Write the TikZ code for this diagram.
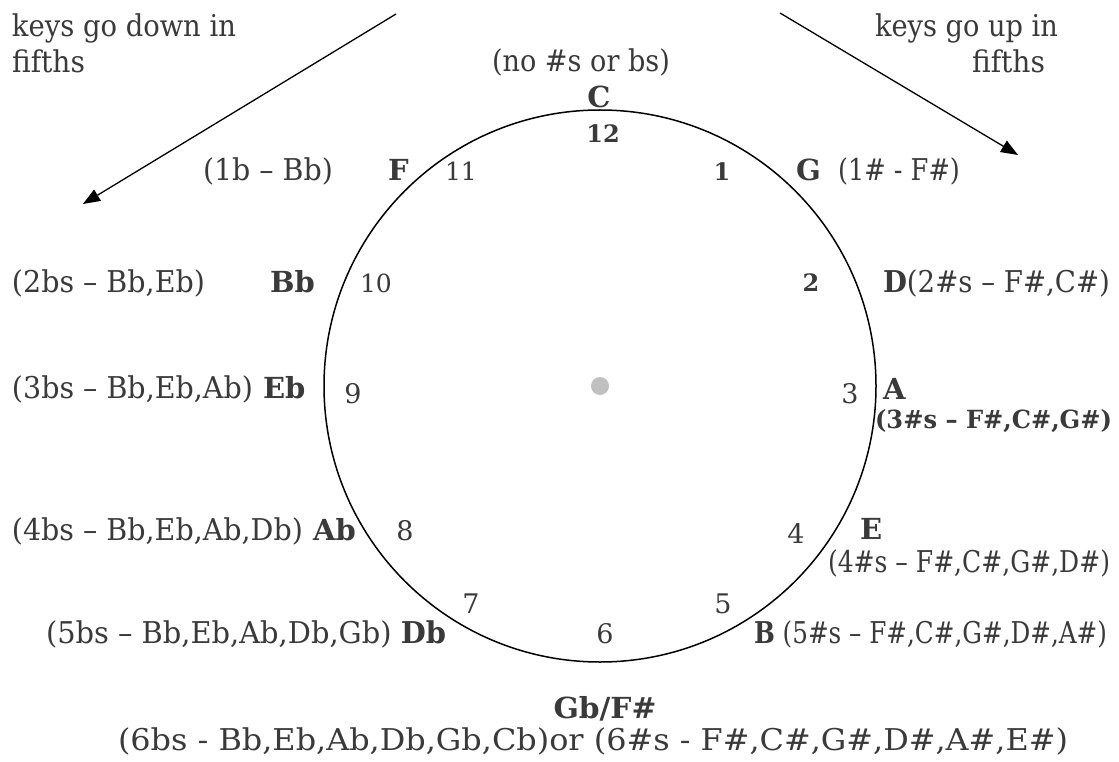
\documentclass[tikz,border=0pt]{standalone}
\usepackage{fontspec}
\setmainfont{DejaVu Serif}
\usepackage{graphicx}
\usetikzlibrary{arrows.meta}
\definecolor{txt}{RGB}{58,58,58}
\definecolor{hubgray}{RGB}{192,192,192}
\newcommand\fw[2]{\resizebox{#1pt}{\height}{#2}}
\begin{document}
\begin{tikzpicture}[x=1pt,y=-1pt,
  lab/.style={inner sep=0pt, outer sep=0pt, text=txt, font=\fontsize{30}{34}\selectfont},
  key/.style={lab, font=\fontsize{29}{34}\selectfont\bfseries},
  lw/.style={lab, anchor=base west},
  kw/.style={key, anchor=base west},
  num/.style={lab, anchor=base, font=\fontsize{27}{32}\selectfont},
  onum/.style={lab, anchor=base, font=\fontsize{25}{28}\selectfont},
  bnum/.style={key, anchor=base},
  bonum/.style={key, anchor=base, font=\fontsize{24}{28}\selectfont\bfseries},
  arr/.style={-{Triangle[length=17pt,width=13pt]}, line width=1.3pt, draw=black}]
\useasboundingbox (0,0) rectangle (1119,762);
\fill[white] (0,0) rectangle (1119,762);

% circle and hub
\node[circle, draw=black, line width=1.5pt, minimum size=552pt, inner sep=0pt] (clock) at (600,386) {};
\node[circle, fill=hubgray, minimum size=18pt, inner sep=0pt] (hub) at (600,386) {};

% arrows
\coordinate (ls) at (396,14);
\coordinate (le) at (83,204);
\coordinate (rs) at (780,13);
\coordinate (re) at (1018,155);
\draw[arr] (ls) -- (le);
\draw[arr] (rs) -- (re);

% top texts
\node[lw] (kd1) at (12,37) {\fw{224}{keys go down in}};
\node[lw] (kd2) at (12,73) {\fw{73}{fifths}};
\node[lw] (ku1) at (875,37) {\fw{183}{keys go up in}};
\node[lw] (ku2) at (972,73) {\fw{73}{fifths}};
\node[lw] (nosb) at (492,72) {\fw{178}{(no \#s or bs)}};

% C / 12
\node[bnum] (kC) at (599,108) {C};
\node[bonum] (n12) at (603,143) {12};

% F row
\node[lw] (fsig) at (203,181) {\fw{130}{(1b – Bb)}};
\node[kw] (kF) at (388,181) {F};
\node[onum] (n11) at (461,181) {11};
\node[bonum] (n1) at (722,181) {1};
\node[kw] (kG) at (796,181) {G};
\node[lw] (gsig) at (838,181) {\fw{122}{(1\# - F\#)}};

% Bb / D row
\node[lw] (bbsig) at (12,292) {\fw{193}{(2bs – Bb,Eb)}};
\node[kw] (kBb) at (270,292) {Bb};
\node[onum] (n10) at (376,292) {10};
\node[bonum] (n2) at (811,291) {2};
\node[lw] (dsig) at (883,292) {\fw{227}{\textbf{D}(2\#s – F\#,C\#)}};

% Eb / A row
\node[lw] (ebsig) at (12,398) {\fw{241}{(3bs – Bb,Eb,Ab)}};
\node[kw] (kEb) at (263,398) {Eb};
\node[num] (n9) at (353,403) {9};
\node[num] (n3) at (850,403) {3};
\node[kw] (kA) at (883,399) {A};
\node[kw, font=\fontsize{25}{28}\selectfont\bfseries] (asig) at (875,428) {\fw{237}{(3\#s – F\#,C\#,G\#)}};

% Ab / E row
\node[lw] (absig) at (12,540) {\fw{291}{(4bs – Bb,Eb,Ab,Db)}};
\node[kw] (kAb) at (313,540) {Ab};
\node[num] (n8) at (405,540) {8};
\node[num] (n4) at (796,543) {4};
\node[kw] (kE) at (860,539) {E};
\node[lw] (esig) at (828,572) {\fw{282}{(4\#s – F\#,C\#,G\#,D\#)}};

% 7 / 5
\node[num] (n7) at (471,613) {7};
\node[num] (n5) at (723,613) {5};

% Db / 6 / B row
\node[lw] (dbsig) at (46,643) {\fw{400}{(5bs – Bb,Eb,Ab,Db,Gb) \textbf{Db}}};
\node[num] (n6) at (605,643) {6};
\node[lw] (bsig) at (754,643) {\fw{353}{\textbf{B} (5\#s – F\#,C\#,G\#,D\#,A\#)}};

% bottom
\node[bnum] (kGb) at (605,718) {\fw{103}{Gb/F\#}};
\node[num, font=\fontsize{30}{34}\selectfont] (sixsig) at (593,750) {\fw{950}{(6bs - Bb,Eb,Ab,Db,Gb,Cb)or (6\#s - F\#,C\#,G\#,D\#,A\#,E\#)}};
\end{tikzpicture}
\end{document}
